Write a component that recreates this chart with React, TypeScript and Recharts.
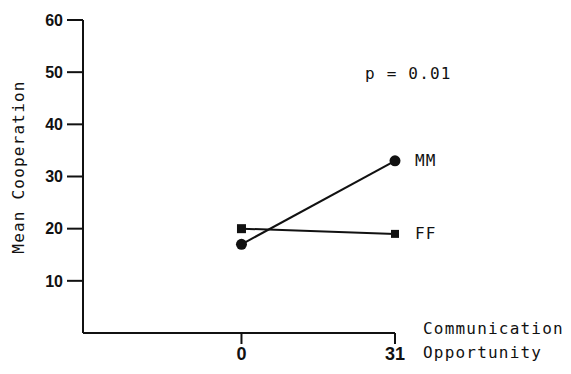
import React from "react";
import { LineChart, Line, XAxis, YAxis } from "recharts";

// Communication opportunity levels (x values) and their tick labels
const opportunity = [0, 31];
const opportunityTicks = [0, 31];
const opportunityLabels = ["0", "31"];

// Mean cooperation by dyad type
const mmValues = [17, 33];
const ffValues = [20, 19];

const yTicks = [10, 20, 30, 40, 50, 60];

const data = opportunity.map((x, i) => ({ x, MM: mmValues[i], FF: ffValues[i] }));

const W = 571;
const H = 374;
const plotFont = "'DejaVu Sans Mono', monospace";
const tickFont = "'Liberation Sans', Arial, sans-serif";

const SquareDot = (props: any) => {
  const { cx, cy, index } = props;
  const s = index === 0 ? 9 : 8;
  return <rect x={cx - s / 2} y={cy - s / 2} width={s} height={s} fill="#111" />;
};

const CircleDot = (props: any) => {
  const { cx, cy } = props;
  return <circle cx={cx} cy={cy} r={5.5} fill="#111" />;
};

const endLabel = (name: string) => (props: any) => {
  const { x, y, index } = props;
  if (index !== data.length - 1) return <g />;
  return (
    <text
      x={x + 20}
      y={y}
      dominantBaseline="central"
      fontFamily={plotFont}
      fontSize={16}
      letterSpacing={1}
      fill="#111"
    >
      {name}
    </text>
  );
};

export default function App() {
  return (
    <div style={{ position: "absolute", left: 0, top: 0, width: W, height: H, background: "#fff" }}>
      <LineChart
        width={W}
        height={H}
        data={data}
        margin={{ top: 20, right: 176, bottom: 0, left: 0 }}
      >
        <XAxis
          dataKey="x"
          type="number"
          domain={[-32, 31]}
          ticks={opportunityTicks}
          tickFormatter={(v: number) => opportunityLabels[opportunityTicks.indexOf(v)] ?? String(v)}
          height={41}
          tickSize={11}
          tickMargin={3}
          axisLine={{ stroke: "#111", strokeWidth: 2 }}
          tickLine={{ stroke: "#111", strokeWidth: 2 }}
          tick={{ fill: "#111", fontFamily: tickFont, fontWeight: 700, fontSize: 18 }}
        />
        <YAxis
          type="number"
          domain={[0, 60]}
          ticks={yTicks}
          width={83}
          tickSize={16}
          tickMargin={4}
          axisLine={{ stroke: "#111", strokeWidth: 2 }}
          tickLine={{ stroke: "#111", strokeWidth: 2 }}
          tick={{ fill: "#111", fontFamily: tickFont, fontWeight: 700, fontSize: 16 }}
        />
        <Line
          dataKey="MM"
          stroke="#111"
          strokeWidth={2}
          dot={<CircleDot />}
          activeDot={false}
          label={endLabel("MM")}
          isAnimationActive={false}
        />
        <Line
          dataKey="FF"
          stroke="#111"
          strokeWidth={2}
          dot={<SquareDot />}
          activeDot={false}
          label={endLabel("FF")}
          isAnimationActive={false}
        />
      </LineChart>
      <svg
        width={W}
        height={H}
        style={{ position: "absolute", left: 0, top: 0, pointerEvents: "none" }}
      >
        <g fontFamily={plotFont} fontSize={16} letterSpacing={1.2} fill="#111">
          <text x={18} y={167} textAnchor="middle" dominantBaseline="central" transform="rotate(-90 18 167)">
            Mean Cooperation
          </text>
          <text x={365} y={73} dominantBaseline="central">p = 0.01</text>
          <text x={423} y={328} dominantBaseline="central">Communication</text>
          <text x={423} y={352} dominantBaseline="central">Opportunity</text>
        </g>
      </svg>
    </div>
  );
}
